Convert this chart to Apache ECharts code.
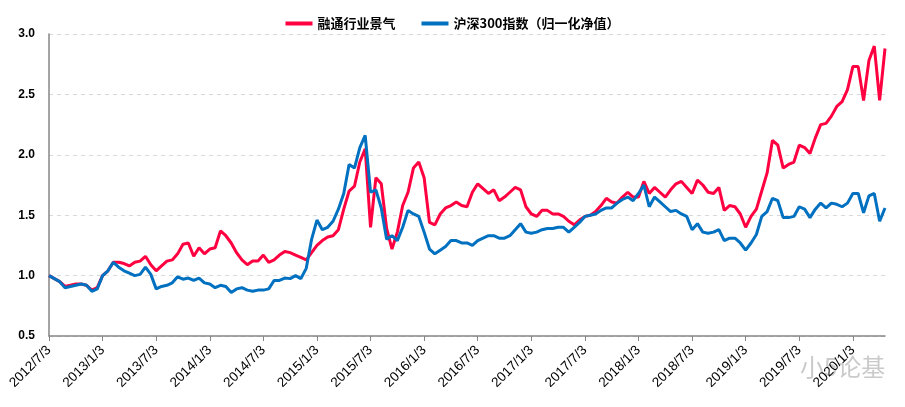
<!DOCTYPE html>
<html>
<head>
<meta charset="utf-8">
<script src="https://cdn.jsdelivr.net/npm/echarts@6/dist/echarts.min.js"></script>
<style>
html,body{margin:0;padding:0;background:#fff;}
#c{width:905px;height:407px;}
</style>
</head>
<body>
<div id="c"></div>
<script>
// Tick labels (one per half-year)
var tickLabels = ['2012/7/3','2013/1/3','2013/7/3','2014/1/3','2014/7/3','2015/1/3','2015/7/3','2016/1/3','2016/7/3','2017/1/3','2017/7/3','2018/1/3','2018/7/3','2019/1/3','2019/7/3','2020/1/3'];
// sample points per half-year
var stepsPerTick = 10;
var seriesNames = ['融通行业景气','沪深300指数（归一化净值）'];

var rongtong = [
1.00,0.975,0.95,0.91,0.92,0.93,0.93,0.92,0.88,0.90,
1.00,1.04,1.11,1.11,1.10,1.08,1.11,1.12,1.16,1.09,
1.04,1.08,1.12,1.13,1.18,1.26,1.27,1.16,1.23,1.18,
1.22,1.23,1.37,1.33,1.27,1.19,1.13,1.09,1.12,1.12,
1.17,1.11,1.13,1.17,1.20,1.19,1.17,1.15,1.13,1.19,
1.25,1.29,1.32,1.33,1.38,1.55,1.70,1.74,1.94,2.05,
1.40,1.81,1.76,1.39,1.22,1.36,1.58,1.69,1.89,1.94,
1.81,1.44,1.42,1.51,1.56,1.58,1.61,1.58,1.57,1.69,
1.76,1.72,1.68,1.71,1.62,1.65,1.69,1.73,1.71,1.57,
1.51,1.49,1.54,1.54,1.51,1.51,1.49,1.45,1.42,1.46,
1.49,1.50,1.53,1.58,1.64,1.61,1.60,1.65,1.69,1.65,
1.65,1.78,1.68,1.73,1.69,1.65,1.71,1.76,1.78,1.73,
1.68,1.79,1.75,1.69,1.68,1.73,1.54,1.58,1.57,1.51,
1.40,1.49,1.55,1.70,1.85,2.12,2.08,1.89,1.92,1.94,
2.08,2.06,2.01,2.14,2.25,2.26,2.32,2.40,2.44,2.54,
2.73,2.73,2.45,2.78,2.90,2.45,2.88
];

var hs300 = [
1.00,0.975,0.95,0.90,0.91,0.92,0.93,0.92,0.87,0.89,
1.00,1.04,1.11,1.07,1.04,1.02,1.00,1.01,1.07,1.01,
0.89,0.91,0.92,0.94,0.99,0.97,0.98,0.96,0.98,0.94,
0.93,0.90,0.92,0.91,0.86,0.89,0.90,0.88,0.87,0.88,
0.88,0.89,0.96,0.96,0.98,0.975,1.00,0.975,1.06,1.30,
1.46,1.38,1.40,1.45,1.55,1.68,1.92,1.89,2.06,2.16,
1.69,1.71,1.56,1.30,1.33,1.29,1.40,1.54,1.51,1.49,
1.36,1.22,1.18,1.21,1.24,1.29,1.29,1.27,1.27,1.25,
1.29,1.31,1.33,1.33,1.31,1.31,1.33,1.38,1.43,1.36,
1.35,1.36,1.38,1.39,1.39,1.40,1.40,1.36,1.40,1.44,
1.49,1.50,1.51,1.54,1.56,1.56,1.60,1.63,1.65,1.62,
1.68,1.75,1.57,1.65,1.61,1.57,1.53,1.54,1.51,1.49,
1.38,1.43,1.36,1.35,1.36,1.38,1.29,1.31,1.31,1.27,
1.21,1.27,1.34,1.49,1.53,1.64,1.62,1.48,1.48,1.49,
1.57,1.55,1.48,1.55,1.60,1.56,1.60,1.59,1.57,1.60,
1.68,1.68,1.52,1.66,1.68,1.45,1.56
];

function toXY(arr){ return arr.map(function(v,i){ return [i/stepsPerTick, v]; }); }
var xMax = (rongtong.length-1)/stepsPerTick;

var chart = echarts.init(document.getElementById('c'), null, {renderer:'canvas'});
chart.setOption({
  animation:false,
  backgroundColor:'#fff',
  grid:{left:49,right:20,top:34,bottom:71,containLabel:false},
  legend:{
    top:12,left:'center',
    itemWidth:27,itemHeight:4,itemGap:26,
    icon:'rect',
    textStyle:{fontFamily:'"Noto Sans CJK SC", sans-serif',fontWeight:'bold',fontSize:13,color:'#000'},
    data:seriesNames
  },
  xAxis:{
    type:'value',min:0,max:xMax,interval:1,
    axisLine:{lineStyle:{color:'#868686',width:1.5}},
    axisTick:{show:true,length:5,lineStyle:{color:'#868686'}},
    splitLine:{show:false},
    axisLabel:{
      rotate:45,margin:12,fontSize:13.5,color:'#000',fontFamily:'"Liberation Sans", Arial, sans-serif',
      showMaxLabel:false,
      formatter:function(v){ var k=Math.round(v); return Math.abs(v-k)<1e-6 && tickLabels[k] ? tickLabels[k] : ''; }
    }
  },
  yAxis:{
    type:'value',min:0.5,max:3.0,interval:0.5,
    axisLine:{show:true,lineStyle:{color:'#868686',width:1.5}},
    axisTick:{show:false},
    splitLine:{show:true,lineStyle:{color:'#d9d9d9',type:[4,4]}},
    axisLabel:{margin:14,fontSize:12,fontWeight:'bold',color:'#000',fontFamily:'"Liberation Sans", Arial, sans-serif',
      formatter:function(v){return v.toFixed(1);}}
  },
  series:[
    {name:seriesNames[0],type:'line',data:toXY(rongtong),symbol:'none',
      lineStyle:{color:'#FF0040',width:3},itemStyle:{color:'#FF0040'},z:2},
    {name:seriesNames[1],type:'line',data:toXY(hs300),symbol:'none',
      lineStyle:{color:'#0070C0',width:3},itemStyle:{color:'#0070C0'},z:3}
  ],
  graphic:[
    {type:'text',left:800,top:355,style:{text:'小5论基',fontSize:24,fontFamily:'"Noto Sans CJK SC", sans-serif',fill:'rgba(150,150,150,0.5)'}}
  ]
});
</script>
</body>
</html>
